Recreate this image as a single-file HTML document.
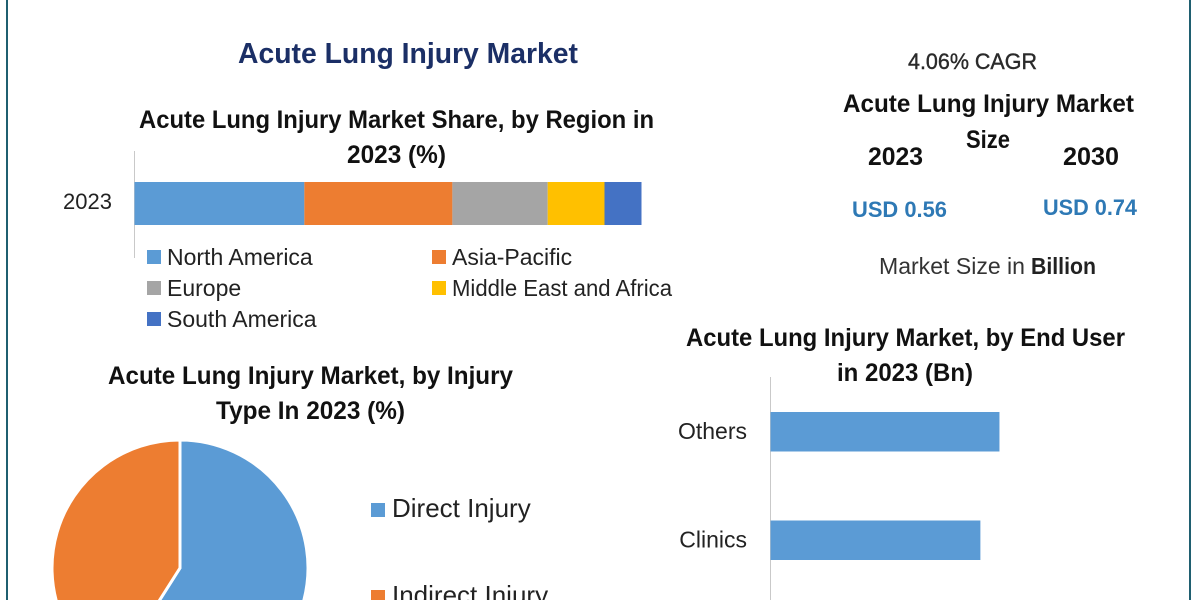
<!DOCTYPE html>
<html lang="en">
<head>
<meta charset="utf-8">
<title>Acute Lung Injury Market</title>
<style>
html,body{margin:0;padding:0;width:1200px;height:600px;overflow:hidden;background:#fff}
svg{display:block;filter:blur(0.35px)}
text{font-family:"Liberation Sans",sans-serif}
.h{font-weight:700;fill:#111;font-size:25px}
</style>
</head>
<body>
<svg id="root" width="1200" height="600" viewBox="0 0 1200 600" xmlns="http://www.w3.org/2000/svg">
  <rect width="1200" height="600" fill="#fff"/>
  <line x1="7" y1="0" x2="7" y2="600" stroke="#1f5f70" stroke-width="2"/>
  <line x1="1190" y1="0" x2="1190" y2="600" stroke="#1f5f70" stroke-width="2"/>

  <text x="238" y="63" font-size="29" font-weight="700" fill="#1b2f66" textLength="340" lengthAdjust="spacingAndGlyphs">Acute Lung Injury Market</text>

  <text class="h" x="139" y="128" textLength="515" lengthAdjust="spacingAndGlyphs">Acute Lung Injury Market Share, by Region in</text>
  <text class="h" x="347" y="163" textLength="99" lengthAdjust="spacingAndGlyphs">2023 (%)</text>

  <g id="region-chart"></g>

  <text class="h" x="108" y="384" textLength="405" lengthAdjust="spacingAndGlyphs">Acute Lung Injury Market, by Injury</text>
  <text class="h" x="216" y="419" textLength="189" lengthAdjust="spacingAndGlyphs">Type In 2023 (%)</text>

  <g id="injury-chart"></g>

  <text x="908" y="69" font-size="22" fill="#2a2a2a" stroke="#2a2a2a" stroke-width="0.4" textLength="129" lengthAdjust="spacingAndGlyphs">4.06% CAGR</text>
  <text class="h" x="843" y="112" textLength="291" lengthAdjust="spacingAndGlyphs">Acute Lung Injury Market</text>
  <text class="h" x="966" y="148" textLength="44" lengthAdjust="spacingAndGlyphs">Size</text>
  <text class="h" x="868" y="165" textLength="55" lengthAdjust="spacingAndGlyphs">2023</text>
  <text class="h" x="1063" y="165" textLength="56" lengthAdjust="spacingAndGlyphs">2030</text>
  <text x="852" y="217" font-size="22" font-weight="700" fill="#2e79b5" textLength="95" lengthAdjust="spacingAndGlyphs">USD 0.56</text>
  <text x="1043" y="215" font-size="22" font-weight="700" fill="#2e79b5" textLength="94" lengthAdjust="spacingAndGlyphs">USD 0.74</text>
  <text x="879" y="274" font-size="23" fill="#333" textLength="146" lengthAdjust="spacingAndGlyphs">Market Size in</text>
  <text x="1031" y="274" font-size="23" font-weight="700" fill="#222" textLength="65" lengthAdjust="spacingAndGlyphs">Billion</text>

  <text class="h" x="686" y="346" textLength="439" lengthAdjust="spacingAndGlyphs">Acute Lung Injury Market, by End User</text>
  <text class="h" x="837" y="381" textLength="136" lengthAdjust="spacingAndGlyphs">in 2023 (Bn)</text>

  <g id="end-user-chart"></g>
</svg>
<script>
var regionYear = '2023';
var regionNames = ['North America', 'Asia-Pacific', 'Europe', 'Middle East and Africa', 'South America'];
var regionValues = [33.5, 29.2, 18.8, 11.2, 7.3];
var injuryNames = ['Direct Injury', 'Indirect Injury'];
var injuryValues = [59, 41];
var endUserNames = ['Others', 'Clinics'];
var endUserValues = [0.12, 0.11];

var NS = 'http://www.w3.org/2000/svg';
var regionColors = ['#5b9bd5', '#ed7d31', '#a5a5a5', '#ffc000', '#4472c4'];
var injuryColors = ['#5b9bd5', '#ed7d31'];

function make(parent, tag, attrs) {
  var el = document.createElementNS(NS, tag);
  for (var k in attrs) { el.setAttribute(k, attrs[k]); }
  parent.appendChild(el);
  return el;
}
function label(parent, x, y, str, size, anchor, maxWidth) {
  var t = make(parent, 'text', { x: x, y: y, 'font-size': size, fill: '#222', 'text-anchor': anchor || 'start' });
  t.textContent = str;
  if (maxWidth && t.getComputedTextLength() > maxWidth) {
    t.setAttribute('textLength', maxWidth);
    t.setAttribute('lengthAdjust', 'spacingAndGlyphs');
  }
  return t;
}
function slug(s) { return s.toLowerCase().replace(/[^a-z0-9]+/g, '-'); }

/* Stacked region bar */
(function () {
  var g = document.getElementById('region-chart');
  var x0 = 134.5, barTop = 182, barH = 43, pxPerPct = 5.07;
  var sx = function (v) { return x0 + v * pxPerPct; };
  var axis = make(g, 'line', { x1: x0, y1: 151, x2: x0, y2: 258, stroke: '#c9c9c9', 'stroke-width': 1 });
  
  
  var yl = label(g, 63, 209, regionYear, 22);
  
  
  var cum = 0;
  regionValues.forEach(function (v, i) {
    var r = make(g, 'rect', { x: sx(cum), y: barTop, width: v * pxPerPct, height: barH, fill: regionColors[i] });
    
    
    cum += v;
  });
  regionNames.forEach(function (n, i) {
    var col = i % 2, row = Math.floor(i / 2);
    var sw = make(g, 'rect', { x: 147 + col * 285, y: 250 + row * 31, width: 14, height: 14, fill: regionColors[i] });
    
    
    var t = label(g, 167 + col * 285, 265 + row * 31, n, 23, 'start', 220);
    
    
  });
})();

/* Injury pie */
(function () {
  var g = document.getElementById('injury-chart');
  var cx = 180, cy = 568, r = 128;
  var total = injuryValues.reduce(function (a, b) { return a + b; }, 0);
  var angle = 0;
  injuryValues.forEach(function (v, i) {
    var a0 = angle, a1 = angle + v / total * Math.PI * 2;
    angle = a1;
    var x0 = cx + r * Math.sin(a0), y0 = cy - r * Math.cos(a0);
    var x1 = cx + r * Math.sin(a1), y1 = cy - r * Math.cos(a1);
    var large = (a1 - a0) > Math.PI ? 1 : 0;
    var p = make(g, 'path', {
      d: 'M' + cx + ' ' + cy + 'L' + x0 + ' ' + y0 + 'A' + r + ' ' + r + ' 0 ' + large + ' 1 ' + x1 + ' ' + y1 + 'Z',
      fill: injuryColors[i], stroke: '#fff', 'stroke-width': 3, 'stroke-linejoin': 'miter'
    });
    
    
  });
  injuryNames.forEach(function (n, i) {
    var sw = make(g, 'rect', { x: 371, y: 503 + i * 87, width: 14, height: 14, fill: injuryColors[i] });
    
    
    var t = label(g, 392, 517 + i * 87, n, 26);
    
    
  });
})();

/* End-user horizontal bars */
(function () {
  var g = document.getElementById('end-user-chart');
  var x0 = 770.5, pxPerBn = 1908, firstTop = 412, step = 108.5, barH = 39.5;
  var sx = function (v) { return v * pxPerBn; };
  var axis = make(g, 'line', { x1: x0, y1: 377, x2: x0, y2: 600, stroke: '#c9c9c9', 'stroke-width': 1 });
  
  
  endUserValues.forEach(function (v, i) {
    var y = firstTop + i * step;
    var r = make(g, 'rect', { x: x0, y: y, width: sx(v), height: barH, fill: '#5b9bd5' });
    
    
    var t = label(g, 747, y + 27, endUserNames[i], 23, 'end');
    
    
  });
})();
</script>
</body>
</html>
